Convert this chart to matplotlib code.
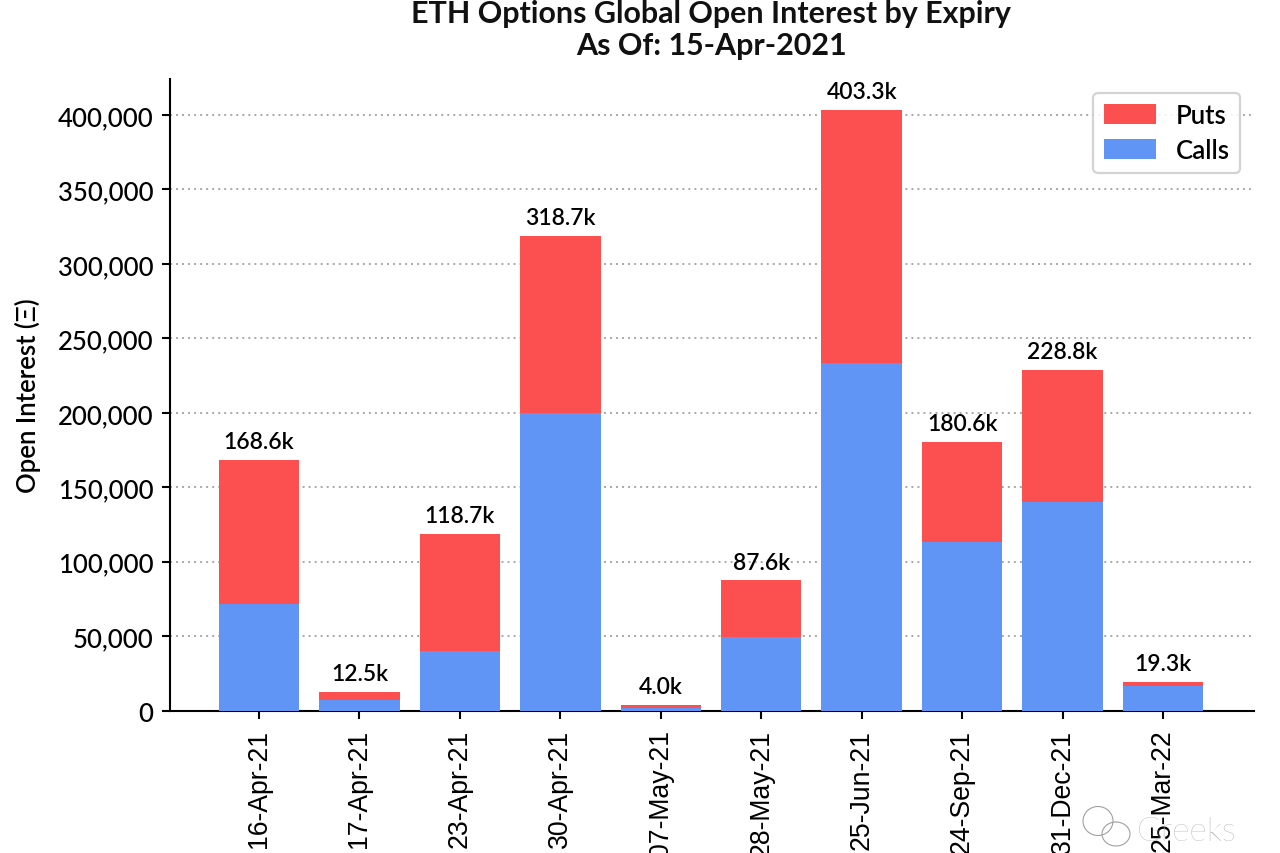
import matplotlib
matplotlib.use('Agg')
import matplotlib.pyplot as plt
from matplotlib.patches import Ellipse
from matplotlib.ticker import FuncFormatter

# Values
expiries = ['16-Apr-21', '17-Apr-21', '23-Apr-21', '30-Apr-21', '07-May-21',
            '28-May-21', '25-Jun-21', '24-Sep-21', '31-Dec-21', '25-Mar-22']
calls = [71900, 6800, 40300, 199700, 1500, 49700, 233300, 113000, 139800, 16800]
totals = [168600, 12500, 118700, 318700, 4000, 87600, 403300, 180600, 228800, 19300]
puts = [t - c for t, c in zip(totals, calls)]
y_ticks = [0, 50000, 100000, 150000, 200000, 250000, 300000, 350000, 400000]

call_color = '#6095F5'
put_color = '#FC4F50'

plt.rcParams['font.family'] = ['Lato', 'DejaVu Sans']
plt.rcParams['font.weight'] = 'medium'

fig = plt.figure(figsize=(12.8, 8.54), dpi=100)
ax = fig.add_axes([170 / 1280, 1 - 711.6 / 854, (1254 - 170) / 1280, (711.6 - 80) / 854])

x = list(range(len(expiries)))
ax.bar(x, calls, width=0.8, color=call_color, label='Calls', zorder=3)
ax.bar(x, puts, width=0.8, bottom=calls, color=put_color, label='Puts', zorder=3)

# Total labels above each bar
for i, total in zip(x, totals):
    ax.annotate(f'{total / 1000:.1f}k', (i, total), xytext=(0, 5.5), textcoords='offset points',
                ha='center', va='bottom', fontsize=16.5, fontweight='semibold', color='black')

ax.set_xlim(-0.886, 9.906)
ax.set_ylim(0, 424200)
ax.set_xticks(x)
ax.set_xticklabels(expiries, rotation=90, family='Liberation Sans', fontsize=19.2)
ax.set_yticks(y_ticks)
ax.yaxis.set_major_formatter(FuncFormatter(lambda v, _: f'{int(v):,}'))
ax.tick_params(axis='y', labelsize=18.5, length=6, width=1.5, pad=6)
ax.tick_params(axis='x', length=6, width=1.5, pad=7)
ax.set_ylabel('Open Interest (Ξ)', fontsize=18.5, labelpad=12, fontweight='semibold')
ax.grid(axis='y', linestyle=(0, (1, 2.1)), color='#a8a8a8', linewidth=1.4, zorder=0)
ax.set_axisbelow(True)

for side in ['top', 'right']:
    ax.spines[side].set_visible(False)
for side in ['left', 'bottom']:
    ax.spines[side].set_linewidth(1.5)

handles, labels = ax.get_legend_handles_labels()
leg = ax.legend(handles[::-1], labels[::-1], loc='upper right', bbox_to_anchor=(0.987, 0.978), borderaxespad=0,
                fontsize=18.5, handlelength=2.05, handleheight=0.8, handletextpad=0.75, labelspacing=0.38,
                framealpha=0.85, edgecolor='#cccccc', fancybox=True, borderpad=0.4)
leg.get_frame().set_linewidth(1.6)
for t in leg.get_texts():
    t.set_fontweight('semibold')

fig.text(711 / 1280, 1 - 30 / 854, 'ETH Options Global Open Interest by Expiry\nAs Of: 15-Apr-2021',
         ha='center', va='center', fontsize=21.9, fontweight='bold', linespacing=1.2, color='#111111')

# Watermark
wm = '#a0a0a0'
fig.text(1137 / 1280, 1 - 832 / 854, 'Greeks', ha='left', va='center', fontsize=24, fontweight='light',
         color=wm, zorder=6)
fig.add_artist(Ellipse((1098 / 1280, 1 - 822 / 854), 30 / 1280, 29 / 854, fill=False, edgecolor=wm,
                       linewidth=0.8, transform=fig.transFigure))
fig.add_artist(Ellipse((1116 / 1280, 1 - 835 / 854), 28 / 1280, 24 / 854, fill=False, edgecolor=wm,
                       linewidth=0.8, transform=fig.transFigure))

fig.savefig('out.png', dpi=100)
